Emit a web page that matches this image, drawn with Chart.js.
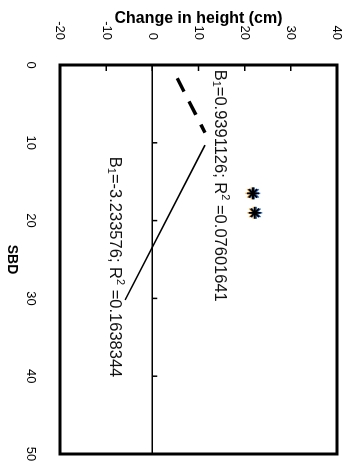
<!DOCTYPE html>
<html>
<head>
<meta charset="utf-8">
<script src="https://cdn.jsdelivr.net/npm/chart.js@4"></script>
<style>
  body { margin: 0; background: #fff; overflow: hidden; }
  /* the chart is drawn lying on its side, then turned a quarter clockwise */
  #wrap {
    position: absolute; left: 0; top: 0;
    width: 473px; height: 350px;
    transform-origin: 0 0;
    transform: translateX(350px) rotate(90deg);
  }
</style>
</head>
<body>
<div id="wrap"><canvas id="myChart" width="473" height="350"></canvas></div>
<script>
const sbdTicks = [0, 10, 20, 30, 40, 50];
const changeTicks = [-20, -10, 0, 10, 20, 30, 40];

const dashedSbd = [1.7, 8.7];
const dashedChange = [5.4, 11.4];
const solidSbd = [10.3, 30.2];
const solidChange = [11.4, -5.9];

const starSbd = [16.5, 19.0];
const starOrange = [21.5, 21.9];
const starBlue = [22.1, 22.5];
const starBlack = [21.8, 22.2];

const fitLabels = [
  { sbd: 0.6, change: 14.6, parts: [["B"], ["1", "sub"], ["=0.9391126; R"], ["2", "sup"], [" =0.07601641"]] },
  { sbd: 11.8, change: -8.1, parts: [["B"], ["1", "sub"], ["=-3.233576; R"], ["2", "sup"], [" =0.1638344"]] },
];

function pts(xs, ys) {
  return xs.map((v, i) => ({ x: v, y: ys[i] }));
}

const FONT = '"Liberation Sans", Arial, sans-serif';

const frame = {
  id: "frame",
  beforeDatasetsDraw(chart) {
    const { ctx, chartArea, scales } = chart;
    const y0 = scales.y.getPixelForValue(0);
    ctx.save();
    ctx.strokeStyle = "#000";
    ctx.lineWidth = 1.5;
    ctx.beginPath();
    ctx.moveTo(chartArea.left, y0);
    ctx.lineTo(chartArea.right, y0);
    sbdTicks.forEach((v) => {
      const px = scales.x.getPixelForValue(v);
      ctx.moveTo(px, y0);
      ctx.lineTo(px, y0 - 5);
    });
    ctx.stroke();
    ctx.restore();
  },
  afterDatasetsDraw(chart) {
    const { ctx, chartArea } = chart;
    const yScale = chart.scales.y;
    ctx.save();
    ctx.strokeStyle = "#000";
    ctx.lineWidth = 1.5;
    ctx.beginPath();
    changeTicks.forEach((v) => {
      const py = yScale.getPixelForValue(v);
      ctx.moveTo(chartArea.left, py);
      ctx.lineTo(chartArea.left + 6, py);
    });
    ctx.stroke();
    ctx.lineWidth = 3;
    ctx.strokeRect(chartArea.left, chartArea.top, chartArea.right - chartArea.left, chartArea.bottom - chartArea.top);
    ctx.restore();
  },
  afterDraw(chart) {
    const { ctx, scales } = chart;
    ctx.save();
    ctx.fillStyle = "#111";
    ctx.textBaseline = "middle";
    fitLabels.forEach((lab) => {
      let x = scales.x.getPixelForValue(lab.sbd);
      const y = scales.y.getPixelForValue(lab.change);
      lab.parts.forEach(([t, kind]) => {
        let dy = 0;
        if (kind) {
          ctx.font = "11px " + FONT;
          dy = kind === "sub" ? 4 : -5;
        } else {
          ctx.font = "16.5px " + FONT;
        }
        ctx.fillText(t, x, y + dy);
        x += ctx.measureText(t).width;
      });
    });
    ctx.restore();
  },
};

const ctx = document.getElementById("myChart").getContext("2d");

// chart.js paints the first dataset last, so the black stars come first
const myChart = new Chart(ctx, {
  type: "scatter",
  data: {
    datasets: [
      {
        data: pts(starSbd, starBlack),
        pointStyle: "star",
        pointRadius: 6,
        borderColor: "#000",
        borderWidth: 1.8,
      },
      {
        data: pts(starSbd, starBlue),
        pointStyle: "star",
        pointRadius: 6,
        borderColor: "#2a6fc9",
        borderWidth: 1.5,
      },
      {
        data: pts(starSbd, starOrange),
        pointStyle: "star",
        pointRadius: 6,
        borderColor: "#f0a030",
        borderWidth: 1.5,
      },
      {
        data: pts(dashedSbd, dashedChange),
        showLine: true,
        borderColor: "#000",
        borderWidth: 3.5,
        borderDash: [15, 11],
        pointRadius: 0,
      },
      {
        data: pts(solidSbd, solidChange),
        showLine: true,
        borderColor: "#000",
        borderWidth: 1.6,
        pointRadius: 0,
      },
    ],
  },
  options: {
    responsive: false,
    animation: false,
    devicePixelRatio: 1,
    layout: { padding: { left: 0, right: 19, top: 13, bottom: 0 } },
    plugins: { legend: { display: false }, tooltip: { enabled: false } },
    scales: {
      x: {
        type: "linear",
        min: 0,
        max: 50,
        afterBuildTicks: (s) => { s.ticks = sbdTicks.map((v) => ({ value: v })); },
        afterFit: (s) => { s.height = 60; s.paddingLeft = 0; s.paddingRight = 0; },
        grid: { display: false },
        border: { display: false },
        ticks: { color: "#000", padding: 14, font: { family: FONT, size: 13 } },
        title: {
          display: true,
          text: "SBD",
          color: "#000",
          padding: { top: 0, bottom: 3 },
          font: { family: FONT, size: 14, weight: "bold" },
        },
      },
      y: {
        type: "linear",
        min: -20,
        max: 40,
        afterBuildTicks: (s) => { s.ticks = changeTicks.map((v) => ({ value: v })); },
        afterFit: (s) => { s.width = 65; s.paddingTop = 0; s.paddingBottom = 0; },
        grid: { display: false },
        border: { display: false },
        ticks: { color: "#000", padding: 17, font: { family: FONT, size: 13 } },
        title: {
          display: true,
          text: "Change in height (cm)",
          color: "#000",
          padding: { top: 9, bottom: 0 },
          font: { family: FONT, size: 16, weight: "bold" },
        },
      },
    },
  },
  plugins: [frame],
});
</script>
</body>
</html>
